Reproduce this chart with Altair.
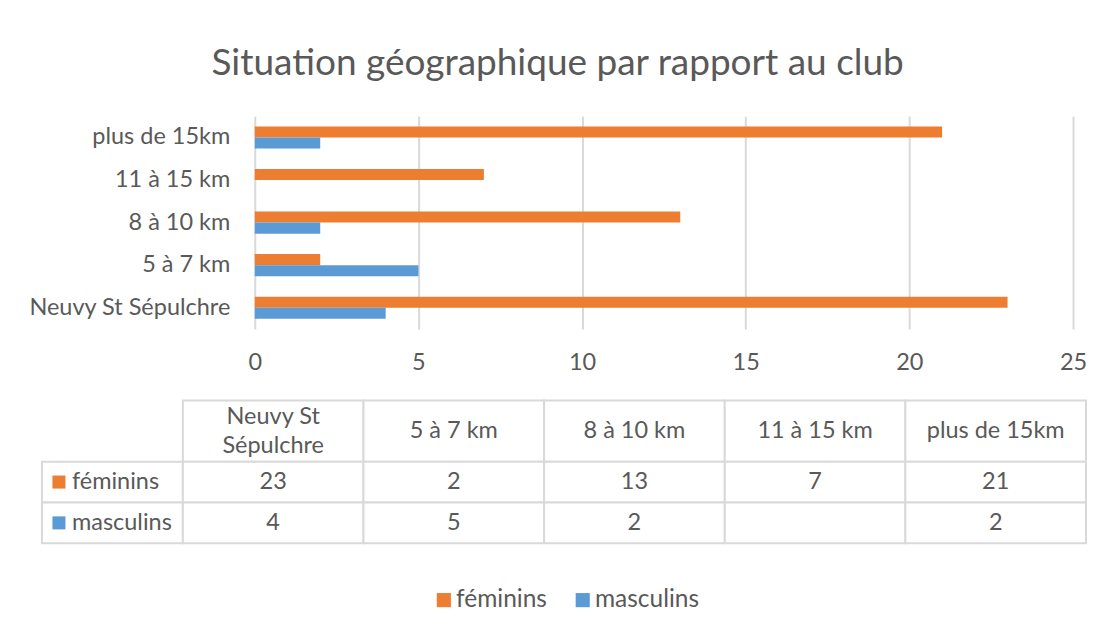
import altair as alt
import pandas as pd

# ---- data ----
title_text = "Situation géographique par rapport au club"
categories = ["Neuvy St Sépulchre", "5 à 7 km", "8 à 10 km", "11 à 15 km", "plus de 15km"]
header_labels = ["Neuvy St\nSépulchre", "5 à 7 km", "8 à 10 km", "11 à 15 km", "plus de 15km"]
series = ["féminins", "masculins"]
feminins = [23, 2, 13, 7, 21]
masculins = [4, 5, 2, None, 2]
colors = ["#ED7D31", "#5B9BD5"]
x_ticks = [0, 5, 10, 15, 20, 25]

# ---- style ----
FONT = "Lato"
GREY = "#595959"
LINE = "#D9D9D9"
LABEL_COL = 0.78  # width of the table's row-label column, in column units
FS = 23.5         # label font size
LH = 29           # line height of wrapped header text

values_by_series = {"féminins": feminins, "masculins": masculins}

bar_rows = []
for s in series:
    for c, v in zip(categories, values_by_series[s]):
        if v is not None:
            bar_rows.append({"cat": c, "series": s, "value": v})
bars_df = pd.DataFrame(bar_rows)

color_scale = alt.Scale(domain=series, range=colors)

bars = alt.Chart(bars_df).mark_bar().encode(
    x=alt.X("value:Q",
            scale=alt.Scale(domain=[0, 25], range=[213, 1032], nice=False),
            axis=alt.Axis(values=x_ticks, title=None, grid=True, gridColor=LINE,
                          gridWidth=2, domain=False, ticks=False, labelFlush=False,
                          labelFontSize=FS, labelFont=FONT, labelColor=GREY,
                          labelPadding=22)),
    y=alt.Y("cat:N", sort=list(reversed(categories)),
            scale=alt.Scale(paddingInner=0.48, paddingOuter=0.24),
            axis=alt.Axis(title=None, domain=False, ticks=False, tickSize=0,
                          labelFontSize=FS, labelFont=FONT, labelColor=GREY,
                          labelPadding=25, offset=-213, labelLimit=400)),
    yOffset=alt.YOffset("series:N", sort=series,
                        scale=alt.Scale(domain=series, paddingInner=0, paddingOuter=0)),
    color=alt.Color("series:N", scale=color_scale,
                    legend=alt.Legend(orient="none", legendX=390, legendY=472,
                                      direction="horizontal", title=None,
                                      symbolType="square", symbolSize=200,
                                      symbolStrokeWidth=0,
                                      labelFontSize=24.5, labelFont=FONT,
                                      labelColor=GREY, columnPadding=23,
                                      labelOffset=0, padding=0)),
).properties(width=1045, height=213)

# ---- table ----
cells = []
for i, lab in enumerate(header_labels):
    cells.append({"x0": i, "x1": i + 1, "y0": 0, "y1": 1.5, "label": lab, "kind": "head"})
for j, s in enumerate(series):
    cells.append({"x0": -LABEL_COL, "x1": 0, "y0": 1.5 + j, "y1": 2.5 + j,
                  "label": s, "kind": "row", "series": s})
    for i, v in enumerate(values_by_series[s]):
        cells.append({"x0": i, "x1": i + 1, "y0": 1.5 + j, "y1": 2.5 + j,
                      "label": "" if v is None else str(v), "kind": "val"})
cells_df = pd.DataFrame(cells)
cells_df["xm"] = (cells_df["x0"] + cells_df["x1"]) / 2
cells_df["ym"] = (cells_df["y0"] + cells_df["y1"]) / 2
cells_df["multi"] = cells_df["label"].str.contains("\n")

xs = alt.Scale(domain=[-LABEL_COL, 5], nice=False, zero=False)
ys = alt.Scale(domain=[0, 3.5], nice=False, zero=False, reverse=True)

tbase = alt.Chart(cells_df)
X0 = alt.X("x0:Q", scale=xs, axis=None)
XM = alt.X("xm:Q", scale=xs, axis=None)
YM = alt.Y("ym:Q", scale=ys, axis=None)

grid = tbase.mark_rect(fill="white", stroke=LINE, strokeWidth=2).encode(
    x=X0, x2="x1:Q", y=alt.Y("y0:Q", scale=ys, axis=None), y2="y1:Q")
txt = tbase.transform_filter("datum.kind != 'row' && !datum.multi").mark_text(
    font=FONT, fontSize=FS, color=GREY).encode(x=XM, y=YM, text="label:N")
txt2 = tbase.transform_filter("datum.multi").mark_text(
    font=FONT, fontSize=FS, color=GREY, lineBreak="\n", lineHeight=LH,
    dy=-LH / 2).encode(x=XM, y=YM, text="label:N")
rowlab = tbase.transform_filter("datum.kind == 'row'").mark_text(
    font=FONT, fontSize=FS, color=GREY, align="left", dx=30).encode(
    x=X0, y=YM, text="label:N")
sq = tbase.transform_filter("datum.kind == 'row'").mark_point(
    shape="square", filled=True, size=170, opacity=1, xOffset=17).encode(
    x=X0, y=YM, color=alt.Color("series:N", scale=color_scale, legend=None))

table = alt.layer(grid, txt, txt2, rowlab, sq).properties(width=1045, height=143)

chart = alt.vconcat(bars, table, spacing=24.5).properties(
    title=alt.TitleParams(title_text, fontSize=37, font=FONT, color=GREY,
                          fontWeight="normal", anchor="middle", offset=33),
    padding={"left": 20, "top": 37, "right": 10, "bottom": 10},
    background="white",
).configure_view(stroke=None)

chart.save("out.html", embed_options={"renderer": "svg", "actions": False})
